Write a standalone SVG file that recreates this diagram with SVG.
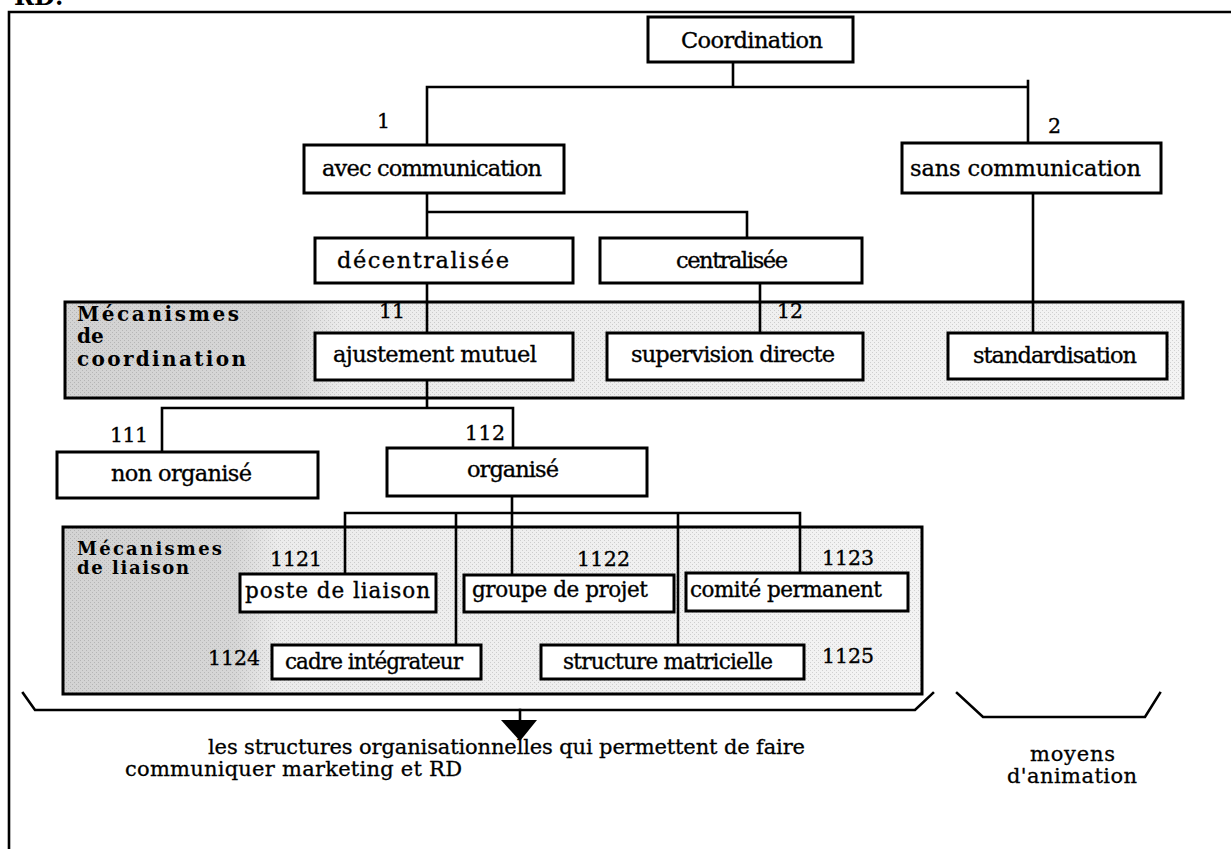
<svg xmlns="http://www.w3.org/2000/svg" width="1231" height="849" viewBox="0 0 1231 849">
<style>
.box{fill:#fff;stroke:#000;stroke-width:3}
.band{stroke:#000;stroke-width:3}
.ln{fill:none;stroke:#000;stroke-width:2.6;stroke-linecap:square}
.t{font-family:"DejaVu Serif","Liberation Serif",serif;font-size:22.5px;fill:#000;stroke:#000;stroke-width:0.35}
.s{font-family:"DejaVu Serif","Liberation Serif",serif;font-size:21.5px;fill:#000;stroke:#000;stroke-width:0.35}
.c{font-family:"DejaVu Serif","Liberation Serif",serif;font-size:21px;fill:#000;stroke:#000;stroke-width:0.3}
.n{font-family:"DejaVu Serif","Liberation Serif",serif;font-size:20.5px;fill:#000;stroke:#000;stroke-width:0.35}
.b{font-family:"DejaVu Serif","Liberation Serif",serif;font-weight:bold;fill:#000}
</style>
<defs>
<linearGradient id="shade" x1="0" y1="0" x2="1" y2="0">
<stop offset="0" stop-color="#d3d3d3"/>
<stop offset="0.2" stop-color="#d6d6d6"/>
<stop offset="0.25" stop-color="#ececec"/>
<stop offset="1" stop-color="#f3f3f3"/>
</linearGradient>
<pattern id="dots" width="4" height="4" patternUnits="userSpaceOnUse">
<rect x="0" y="0" width="1" height="1" fill="#000" fill-opacity="0.14"/>
<rect x="2" y="2" width="1" height="1" fill="#000" fill-opacity="0.14"/>
</pattern>
</defs>
<rect width="1231" height="849" fill="#fff"/>
<text x="14" y="5" font-family="DejaVu Serif, serif" font-size="24" font-weight="bold">RD:</text>
<path class="ln" d="M9,849 V12 H1231"/>

<g id="band-coordination">
<rect class="band" x="65" y="302" width="1118" height="96" fill="url(#shade)"/>
<rect x="66" y="303" width="1116" height="94" fill="url(#dots)"/>
<text class="b" font-size="20" x="77" y="321" textLength="162">Mécanismes</text>
<text class="b" font-size="20" x="77" y="343">de</text>
<text class="b" font-size="20" x="77" y="366" textLength="169">coordination</text>
</g>
<g id="band-liaison">
<rect class="band" x="63" y="527" width="859" height="167" fill="url(#shade)"/>
<rect x="64" y="528" width="857" height="165" fill="url(#dots)"/>
<text class="b" font-size="18" x="77" y="555" textLength="145">Mécanismes</text>
<text class="b" font-size="18" x="77" y="574" textLength="112">de liaison</text>
</g>

<g id="connectors">
<path class="ln" d="M733,62 V87 M427,87 H1028 M427,87 V145 M1028,81 V143"/>
<path class="ln" d="M1033,193 V333"/>
<path class="ln" d="M427,193 V238 M427,212 H747 V238"/>
<path class="ln" d="M427,283 V333 M760,283 V333"/>
<path class="ln" d="M427,380 V408 M162,408 H513 M162,408 V452 M513,408 V448"/>
<path class="ln" d="M512,496 V575 M345,513 H800 M345,513 V574 M456,513 V645 M678,513 V645 M800,513 V573"/>
<path class="ln" d="M23,693 L35,710 H915 L933,693"/>
<path class="ln" d="M520,710 V722"/>
<polygon points="501,720 537,720 520,741" fill="#000"/>
<path class="ln" d="M957,693 L983,717 H1145 L1160,693"/>
</g>

<g id="n-coordination"><rect class="box" x="648" y="17" width="205" height="45"/><text class="t" x="681" y="48" textLength="142">Coordination</text></g>
<g id="n-avec"><rect class="box" x="304" y="145" width="260" height="48"/><text class="t" x="322" y="176" textLength="220">avec communication</text></g>
<g id="n-sans"><rect class="box" x="902" y="143" width="259" height="50"/><text class="t" x="910" y="176" textLength="231">sans communication</text></g>
<g id="n-decentralisee"><rect class="box" x="315" y="238" width="258" height="45"/><text class="t" x="337" y="268" textLength="172">décentralisée</text></g>
<g id="n-centralisee"><rect class="box" x="600" y="238" width="262" height="45"/><text class="t" x="676" y="268" textLength="112">centralisée</text></g>
<g id="n-ajustement"><rect class="box" x="315" y="333" width="258" height="47"/><text class="t" x="333" y="362" textLength="204">ajustement mutuel</text></g>
<g id="n-supervision"><rect class="box" x="607" y="333" width="256" height="47"/><text class="t" x="631" y="362" textLength="204">supervision directe</text></g>
<g id="n-standardisation"><rect class="box" x="948" y="333" width="219" height="46"/><text class="t" x="973" y="363" textLength="164">standardisation</text></g>
<g id="n-nonorganise"><rect class="box" x="57" y="452" width="261" height="46"/><text class="t" x="111" y="481" textLength="141">non organisé</text></g>
<g id="n-organise"><rect class="box" x="387" y="448" width="260" height="48"/><text class="t" x="467" y="477" textLength="92">organisé</text></g>
<g id="n-poste"><rect class="box" x="240" y="574" width="196" height="38"/><text class="s" x="245" y="598" textLength="185">poste de liaison</text></g>
<g id="n-groupe"><rect class="box" x="464" y="575" width="210" height="37"/><text class="s" x="472" y="597" textLength="176">groupe de projet</text></g>
<g id="n-comite"><rect class="box" x="686" y="573" width="222" height="38"/><text class="s" x="690" y="597" textLength="192">comité permanent</text></g>
<g id="n-cadre"><rect class="box" x="272" y="645" width="209" height="34"/><text class="s" x="285" y="669" textLength="178">cadre intégrateur</text></g>
<g id="n-structure"><rect class="box" x="541" y="645" width="263" height="34"/><text class="s" x="563" y="669" textLength="210">structure matricielle</text></g>

<g id="labels">
<text class="n" x="377" y="128">1</text>
<text class="n" x="1048" y="133">2</text>
<text class="n" x="379" y="318">11</text>
<text class="n" x="777" y="318">12</text>
<text class="n" x="110" y="442" textLength="38">111</text>
<text class="n" x="465" y="440" textLength="40">112</text>
<text class="n" x="270" y="566" textLength="52">1121</text>
<text class="n" x="577" y="566" textLength="53">1122</text>
<text class="n" x="822" y="565" textLength="52">1123</text>
<text class="n" x="208" y="665" textLength="52">1124</text>
<text class="n" x="822" y="663" textLength="52">1125</text>
</g>

<g id="captions">
<text class="c" x="208" y="754" textLength="597">les structures organisationnelles qui permettent de faire</text>
<text class="c" x="125" y="776" textLength="337">communiquer marketing et RD</text>
<text class="c" x="1030" y="761" textLength="85">moyens</text>
<text class="c" x="1007" y="783" textLength="130">d'animation</text>
</g>
</svg>
